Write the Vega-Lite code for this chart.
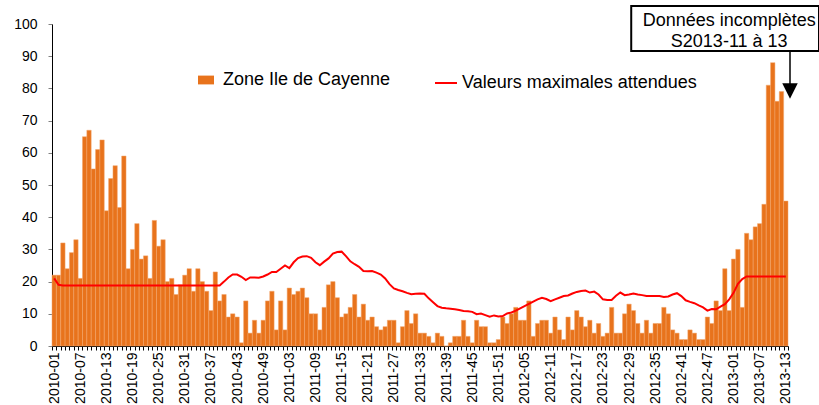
{
  "$schema": "https://vega.github.io/schema/vega-lite/v6.json",
  "width": 736,
  "height": 322,
  "autosize": {"type": "none"},
  "padding": {"left": 52, "top": 24, "right": 31, "bottom": 59},
  "background": "white",
  "config": {
    "view": {"stroke": null}, "font": "Liberation Sans", "axis": {"grid": false, "labelOverlap": false}
  },
  "data": {"values": [
    {"w":"2010-01","c":22,"m":21.0},{"w":"2010-02","c":22,"m":19.0},{"w":"2010-03","c":32,"m":18.8},{"w":"2010-04","c":24,"m":18.8},
    {"w":"2010-05","c":29,"m":18.8},{"w":"2010-06","c":33,"m":18.8},{"w":"2010-07","c":21,"m":18.8},{"w":"2010-08","c":65,"m":18.8},
    {"w":"2010-09","c":67,"m":18.8},{"w":"2010-10","c":55,"m":18.8},{"w":"2010-11","c":61,"m":18.8},{"w":"2010-12","c":64,"m":18.8},
    {"w":"2010-13","c":42,"m":18.8},{"w":"2010-14","c":52,"m":18.8},{"w":"2010-15","c":56,"m":18.8},{"w":"2010-16","c":43,"m":18.8},
    {"w":"2010-17","c":59,"m":18.8},{"w":"2010-18","c":24,"m":18.8},{"w":"2010-19","c":30,"m":18.8},{"w":"2010-20","c":38,"m":18.8},
    {"w":"2010-21","c":27,"m":18.8},{"w":"2010-22","c":28,"m":18.8},{"w":"2010-23","c":21,"m":18.8},{"w":"2010-24","c":39,"m":18.8},
    {"w":"2010-25","c":31,"m":18.8},{"w":"2010-26","c":33,"m":18.8},{"w":"2010-27","c":20,"m":18.8},{"w":"2010-28","c":21,"m":18.8},
    {"w":"2010-29","c":16,"m":18.8},{"w":"2010-30","c":19,"m":18.8},{"w":"2010-31","c":22,"m":18.8},{"w":"2010-32","c":24,"m":18.8},
    {"w":"2010-33","c":17,"m":18.8},{"w":"2010-34","c":24,"m":18.8},{"w":"2010-35","c":20,"m":18.8},{"w":"2010-36","c":17,"m":18.8},
    {"w":"2010-37","c":11,"m":18.8},{"w":"2010-38","c":23,"m":18.8},{"w":"2010-39","c":14,"m":18.8},{"w":"2010-40","c":16,"m":20.0},
    {"w":"2010-41","c":9,"m":21.3},{"w":"2010-42","c":10,"m":22.2},{"w":"2010-43","c":9,"m":22.2},{"w":"2010-44","c":1,"m":21.5},
    {"w":"2010-45","c":14,"m":20.5},{"w":"2010-46","c":4,"m":21.3},{"w":"2010-47","c":8,"m":21.3},{"w":"2010-48","c":4,"m":21.2},
    {"w":"2010-49","c":8,"m":21.6},{"w":"2010-50","c":14,"m":22.2},{"w":"2010-51","c":17,"m":23.0},{"w":"2010-52","c":5,"m":23.0},
    {"w":"2011-01","c":14,"m":24.0},{"w":"2011-02","c":5,"m":25.0},{"w":"2011-03","c":18,"m":24.2},{"w":"2011-04","c":16,"m":26.0},
    {"w":"2011-05","c":17,"m":27.3},{"w":"2011-06","c":18,"m":27.8},{"w":"2011-07","c":15,"m":27.9},{"w":"2011-08","c":10,"m":27.4},
    {"w":"2011-09","c":10,"m":26.0},{"w":"2011-10","c":5,"m":25.1},{"w":"2011-11","c":12,"m":26.2},{"w":"2011-12","c":19,"m":27.2},
    {"w":"2011-13","c":20,"m":28.7},{"w":"2011-14","c":15,"m":29.2},{"w":"2011-15","c":9,"m":29.3},{"w":"2011-16","c":10,"m":27.9},
    {"w":"2011-17","c":12,"m":26.3},{"w":"2011-18","c":16,"m":25.4},{"w":"2011-19","c":9,"m":24.6},{"w":"2011-20","c":13,"m":23.3},
    {"w":"2011-21","c":8,"m":23.2},{"w":"2011-22","c":9,"m":23.3},{"w":"2011-23","c":6,"m":22.8},{"w":"2011-24","c":5,"m":22.2},
    {"w":"2011-25","c":6,"m":21.0},{"w":"2011-26","c":8,"m":19.2},{"w":"2011-27","c":8,"m":17.9},{"w":"2011-28","c":1,"m":17.4},
    {"w":"2011-29","c":6,"m":17.0},{"w":"2011-30","c":11,"m":16.5},{"w":"2011-31","c":7,"m":16.1},{"w":"2011-32","c":10,"m":16.2},
    {"w":"2011-33","c":4,"m":16.3},{"w":"2011-34","c":4,"m":16.2},{"w":"2011-35","c":3,"m":14.8},{"w":"2011-36","c":1,"m":13.6},
    {"w":"2011-37","c":4,"m":12.4},{"w":"2011-38","c":3,"m":11.9},{"w":"2011-39","c":0,"m":11.7},{"w":"2011-40","c":1,"m":11.6},
    {"w":"2011-41","c":3,"m":11.4},{"w":"2011-42","c":3,"m":11.2},{"w":"2011-43","c":8,"m":10.9},{"w":"2011-44","c":3,"m":10.8},
    {"w":"2011-45","c":1,"m":10.6},{"w":"2011-46","c":8,"m":9.9},{"w":"2011-47","c":6,"m":10.1},{"w":"2011-48","c":6,"m":9.6},
    {"w":"2011-49","c":1,"m":9.1},{"w":"2011-50","c":1,"m":9.5},{"w":"2011-51","c":2,"m":9.2},{"w":"2011-52","c":9,"m":9.3},
    {"w":"2012-01","c":7,"m":10.1},{"w":"2012-02","c":10,"m":10.4},{"w":"2012-03","c":12,"m":11.0},{"w":"2012-04","c":8,"m":11.7},
    {"w":"2012-05","c":8,"m":12.4},{"w":"2012-06","c":14,"m":13.1},{"w":"2012-07","c":3,"m":13.8},{"w":"2012-08","c":7,"m":14.5},
    {"w":"2012-09","c":8,"m":15.0},{"w":"2012-10","c":8,"m":14.6},{"w":"2012-11","c":4,"m":13.9},{"w":"2012-12","c":9,"m":14.5},
    {"w":"2012-13","c":5,"m":15.0},{"w":"2012-14","c":2,"m":15.5},{"w":"2012-15","c":9,"m":15.7},{"w":"2012-16","c":5,"m":16.3},
    {"w":"2012-17","c":11,"m":16.8},{"w":"2012-18","c":9,"m":17.1},{"w":"2012-19","c":6,"m":17.2},{"w":"2012-20","c":8,"m":16.6},
    {"w":"2012-21","c":4,"m":16.9},{"w":"2012-22","c":7,"m":16.0},{"w":"2012-23","c":3,"m":14.5},{"w":"2012-24","c":4,"m":14.3},
    {"w":"2012-25","c":12,"m":14.3},{"w":"2012-26","c":4,"m":15.6},{"w":"2012-27","c":4,"m":16.6},{"w":"2012-28","c":10,"m":15.8},
    {"w":"2012-29","c":13,"m":16.0},{"w":"2012-30","c":11,"m":16.3},{"w":"2012-31","c":7,"m":16.0},{"w":"2012-32","c":4,"m":15.8},
    {"w":"2012-33","c":8,"m":15.5},{"w":"2012-34","c":4,"m":15.5},{"w":"2012-35","c":7,"m":15.5},{"w":"2012-36","c":7,"m":15.5},
    {"w":"2012-37","c":12,"m":15.2},{"w":"2012-38","c":10,"m":15.4},{"w":"2012-39","c":5,"m":16.0},{"w":"2012-40","c":4,"m":16.4},
    {"w":"2012-41","c":2,"m":15.5},{"w":"2012-42","c":2,"m":14.2},{"w":"2012-43","c":5,"m":13.7},{"w":"2012-44","c":4,"m":13.3},
    {"w":"2012-45","c":2,"m":12.6},{"w":"2012-46","c":2,"m":12.0},{"w":"2012-47","c":9,"m":11.0},{"w":"2012-48","c":7,"m":11.5},
    {"w":"2012-49","c":14,"m":11.4},{"w":"2012-50","c":11,"m":12.2},{"w":"2012-51","c":24,"m":13.0},{"w":"2012-52","c":11,"m":14.5},
    {"w":"2013-01","c":27,"m":16.5},{"w":"2013-02","c":30,"m":19.3},{"w":"2013-03","c":12,"m":20.8},{"w":"2013-04","c":35,"m":21.6},
    {"w":"2013-05","c":33,"m":21.6},{"w":"2013-06","c":37,"m":21.6},{"w":"2013-07","c":38,"m":21.6},{"w":"2013-08","c":44,"m":21.6},
    {"w":"2013-09","c":81,"m":21.6},{"w":"2013-10","c":88,"m":21.6},{"w":"2013-11","c":76,"m":21.6},{"w":"2013-12","c":79,"m":21.6},
    {"w":"2013-13","c":45,"m":21.6}
  ]},
  "layer": [
    {
      "mark": {"type": "bar", "stroke": "#F3A66C", "strokeWidth": 0.5},
      "encoding": {
        "x": {
          "field": "w", "type": "ordinal",
          "scale": {"paddingInner": 0, "paddingOuter": 0},
          "axis": {
            "title": null, "labelAngle": -90, "labelFontSize": 14, "labelColor": "#000",
            "labelExpr": "indexof(['2010-01','2010-07','2010-13','2010-19','2010-25','2010-31','2010-37','2010-43','2010-49','2011-03','2011-09','2011-15','2011-21','2011-27','2011-33','2011-39','2011-45','2011-51','2012-05','2012-11','2012-17','2012-23','2012-29','2012-35','2012-41','2012-47','2013-01','2013-07','2013-13'], datum.value) >= 0 ? datum.value : ''",
            "tickSize": 4, "tickColor": "#000", "domainColor": "#000", "tickBand": "extent",
            "labelPadding": 2, "labelOverlap": false, "labelBound": false, "labelFlush": false
          }
        },
        "y": {
          "field": "c", "type": "quantitative",
          "scale": {"domain": [0, 100], "nice": false},
          "axis": {
            "title": null, "values": [0,10,20,30,40,50,60,70,80,90,100], "tickCount": 12,
            "tickSize": 4, "tickColor": "#808080", "domainColor": "#000",
            "labelFontSize": 14, "labelColor": "#000", "labelPadding": 11,
            "labelOverlap": false, "labelFlush": false
          }
        },
        "color": {
          "datum": "Zone Ile de Cayenne",
          "scale": {"range": ["#E8731C"]},
          "legend": {
            "title": null, "orient": "none", "legendX": 145, "legendY": 47, "padding": 0,
            "symbolType": "M-1,-0.55H1V0.55H-1Z", "symbolSize": 256, "symbolStrokeWidth": 0,
            "labelFontSize": 18, "labelColor": "#000", "labelOffset": 8, "labelLimit": 400
          }
        }
      }
    },
    {
      "mark": {"type": "line", "strokeWidth": 2},
      "encoding": {
        "x": {"field": "w", "type": "ordinal"},
        "y": {"field": "m", "type": "quantitative"},
        "stroke": {
          "datum": "Valeurs maximales attendues",
          "scale": {"range": ["#FF0000"]},
          "legend": {
            "title": null, "orient": "none", "legendX": 382, "legendY": 47, "padding": 0,
            "symbolType": "stroke", "symbolSize": 484, "symbolStrokeWidth": 2,
            "labelFontSize": 18, "labelColor": "#000", "labelOffset": 4, "labelLimit": 400
          }
        }
      }
    },
    {
      "data": {"values": [{}]},
      "mark": {"type": "rect", "fill": "white", "stroke": "#000", "strokeWidth": 2, "x2Offset": 31},
      "encoding": {
        "x": {"datum": "2012-30", "type": "ordinal", "bandPosition": 0},
        "x2": {"datum": "2013-13", "bandPosition": 1},
        "y": {"datum": 105.6, "type": "quantitative"},
        "y2": {"datum": 91.6}
      }
    },
    {
      "data": {"values": [{}]},
      "mark": {"type": "text", "text": "Données incomplètes", "fontSize": 18, "align": "center", "baseline": "alphabetic", "color": "#000"},
      "encoding": {
        "x": {"datum": "2012-52", "type": "ordinal"},
        "y": {"datum": 99.4, "type": "quantitative"}
      }
    },
    {
      "data": {"values": [{}]},
      "mark": {"type": "text", "text": "S2013-11 à 13", "fontSize": 18, "align": "center", "baseline": "alphabetic", "color": "#000"},
      "encoding": {
        "x": {"datum": "2012-52", "type": "ordinal"},
        "y": {"datum": 93.0, "type": "quantitative"}
      }
    },
    {
      "data": {"values": [{}]},
      "mark": {"type": "rule", "color": "#000", "strokeWidth": 1.5, "xOffset": 2},
      "encoding": {
        "x": {"datum": "2013-13", "type": "ordinal", "bandPosition": 1},
        "y": {"datum": 91.6, "type": "quantitative"},
        "y2": {"datum": 80.5}
      }
    },
    {
      "data": {"values": [{}]},
      "mark": {"type": "point", "shape": "M-1,-1L1,-1L0,1Z", "filled": true, "color": "#000", "opacity": 1, "size": 240, "xOffset": 2},
      "encoding": {
        "x": {"datum": "2013-13", "type": "ordinal", "bandPosition": 1},
        "y": {"datum": 79.2, "type": "quantitative"}
      }
    }
  ]
}
